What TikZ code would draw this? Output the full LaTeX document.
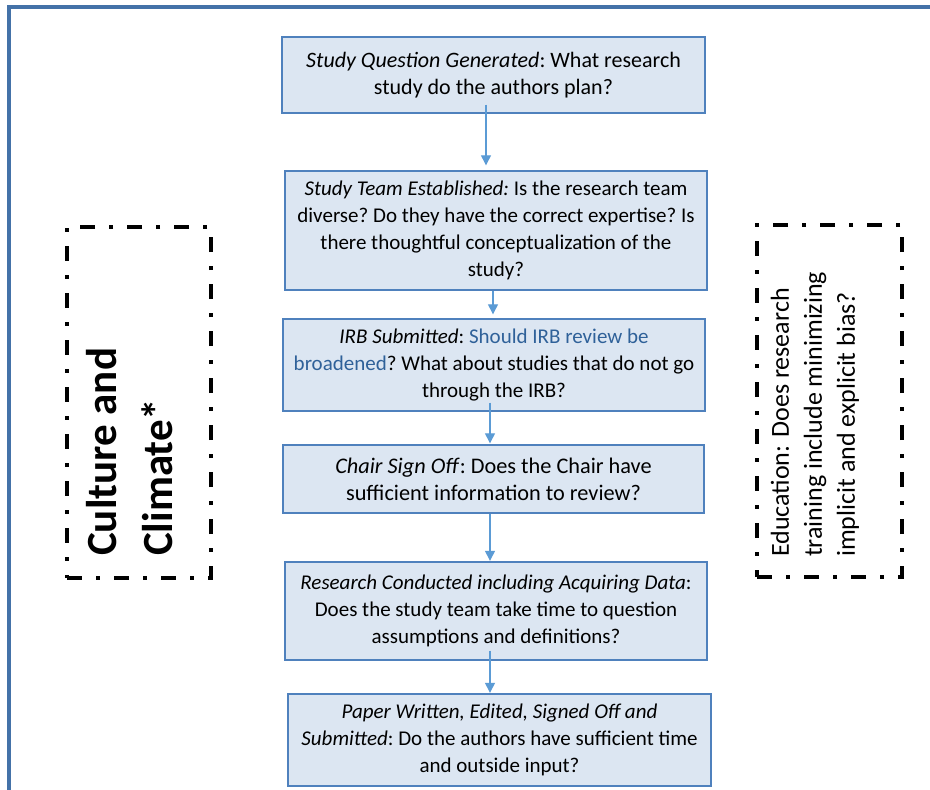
\documentclass[tikz,border=0pt]{standalone}
\usepackage{fontspec}
\setmainfont{Carlito}
\usetikzlibrary{arrows.meta}
\definecolor{framecol}{HTML}{4472A8}
\definecolor{boxfill}{HTML}{DCE6F2}
\definecolor{boxline}{HTML}{4F81BD}
\definecolor{arrcol}{HTML}{5B9BD5}
\definecolor{irbcol}{HTML}{2F6199}
\tikzset{
  stepbox/.style={draw=boxline, fill=boxfill, line width=1.4pt, inner sep=0pt, align=center,
    font=\frenchspacing\fontsize{21}{27}\selectfont},
  bigbox/.style={stepbox, font=\frenchspacing\fontsize{22}{27}\selectfont},
  arr/.style={draw=arrcol, line width=1.3pt, -{Triangle[width=10pt,length=10pt]}},
  dashbox/.style={draw=black, line width=4pt, dash pattern=on 15pt off 14pt on 4pt off 14pt, inner sep=0pt},
}
\begin{document}
\begin{tikzpicture}[x=1pt,y=-1pt]
\useasboundingbox (0,0) rectangle (930,790);
\clip (0,0) rectangle (930,790);
\fill[white] (0,0) rectangle (930,790);
\draw[framecol, line width=4pt] (9,7) rectangle (950,810);

\node[bigbox, minimum width=423pt, minimum height=76pt] (b1) at (493.5,75)
  {\textit{Study Question Generated}: What research\\study do the authors plan?};
\node[stepbox, minimum width=422pt, minimum height=119pt] (b2) at (496,230.5)
  {\textit{Study Team Established:} Is the research team\\diverse? Do they have the correct expertise? Is\\there thoughtful conceptualization of the\\study?};
\node[stepbox, minimum width=422pt, minimum height=92pt] (b3) at (494,365)
  {\textit{IRB Submitted}: \textcolor{irbcol}{Should IRB review be}\\\textcolor{irbcol}{broadened}? What about studies that do not go\\through the IRB?};
\node[bigbox, minimum width=421pt, minimum height=68pt, font=\frenchspacing\fontsize{22.3}{27}\selectfont] (b4) at (493.5,479)
  {\textit{Chair Sign Off}: Does the Chair have\\sufficient information to review?};
\node[stepbox, minimum width=422pt, minimum height=98pt] (b5) at (496,611)
  {\textit{Research Conducted including Acquiring Data}:\\Does the study team take time to question\\assumptions and definitions?};
\node[stepbox, minimum width=423pt, minimum height=92pt] (b6) at (499.5,740)
  {\textit{Paper Written, Edited, Signed Off and}\\\textit{Submitted}: Do the authors have sufficient time\\and outside input?};

\draw[arr] ([xshift=-7.5pt,yshift=9pt]b1.south) -- ([xshift=-10pt,yshift=5pt]b2.north);
\draw[arr] ([xshift=-3pt]b2.south) -- ([xshift=-1pt,yshift=4pt]b3.north);
\draw[arr] ([xshift=-4pt,yshift=9pt]b3.south) -- ([xshift=-3.5pt,yshift=1pt]b4.north);
\draw[arr] ([xshift=-3.5pt]b4.south) -- ([xshift=-6pt,yshift=0.5pt]b5.north);
\draw[arr] ([xshift=-6pt,yshift=10pt]b5.south) -- ([xshift=-9.5pt,yshift=0.5pt]b6.north);

\node[dashbox, minimum width=144pt, minimum height=351pt] (cbox) at (139,402.5) {};
\node[rotate=90, anchor=west, align=left, inner sep=0pt,
  font=\bfseries\fontsize{43}{56}\selectfont] (ctext) at (130,556) {Culture and\\Climate*};

\node[dashbox, minimum width=145pt, minimum height=352pt] (ebox) at (829.5,401) {};
\node[rotate=90, anchor=west, align=left, inner sep=0pt,
  font=\fontsize{26}{33}\selectfont] (etext) at (815,557)
  {Education: Does research\\training include minimizing\\implicit and explicit bias?};
\end{tikzpicture}
\end{document}
